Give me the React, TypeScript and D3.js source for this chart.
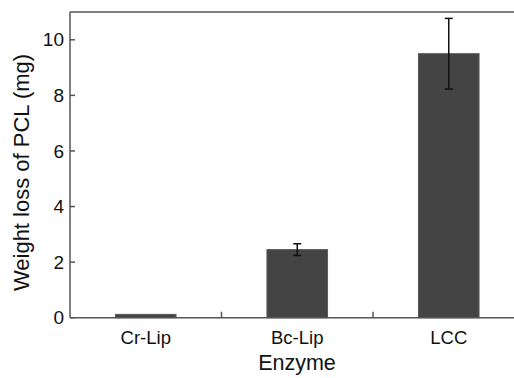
import { useEffect, useRef } from 'react';
import * as d3 from 'd3';

const categories = ['Cr-Lip', 'Bc-Lip', 'LCC'];
const values = [0.12, 2.45, 9.5];
const errors = [0, 0.21, 1.27];
const yTicks = [0, 2, 4, 6, 8, 10];

export default function App() {
  const svgRef = useRef<SVGSVGElement>(null);

  useEffect(() => {
    if (!svgRef.current) return;
    const width = 514;
    const height = 378;
    const left = 70;
    const top = 12;
    const bottom = 317.7;

    const root = d3.select(svgRef.current);
    root.selectAll('*').remove();
    root.attr('width', width).attr('height', height);

    const x = d3.scaleBand().domain(categories).range([left, left + 3 * 151.5]).paddingInner(0).paddingOuter(0);
    const y = d3.scaleLinear().domain([0, 11]).range([bottom, top]);

    const barW = x.bandwidth() * 0.4;
    const axisColor = '#555';

    // bars
    root
      .selectAll('.bar')
      .data(categories)
      .enter()
      .append('rect')
      .attr('x', (d) => (x(d) || 0) + x.bandwidth() / 2 - barW / 2)
      .attr('y', (_, i) => y(values[i]))
      .attr('width', barW)
      .attr('height', (_, i) => bottom - y(values[i]))
      .attr('fill', '#444')
      .attr('stroke', '#5a5a5a')
      .attr('stroke-width', 1);

    // error bars
    categories.forEach((c, i) => {
      if (!errors[i]) return;
      const cx = (x(c) || 0) + x.bandwidth() / 2;
      const g = root.append('g').attr('stroke', '#111').attr('stroke-width', 1.5);
      g.append('line').attr('x1', cx).attr('x2', cx).attr('y1', y(values[i] + errors[i])).attr('y2', y(values[i] - errors[i]));
      [values[i] + errors[i], values[i] - errors[i]].forEach((v) => {
        g.append('line').attr('x1', cx - 4).attr('x2', cx + 4).attr('y1', y(v)).attr('y2', y(v));
      });
    });

    // axes frame
    root.append('line').attr('x1', left).attr('x2', width).attr('y1', top).attr('y2', top).attr('stroke', axisColor).attr('stroke-width', 1.5);
    root.append('line').attr('x1', left).attr('x2', left).attr('y1', top).attr('y2', bottom).attr('stroke', axisColor).attr('stroke-width', 1.5);
    root.append('line').attr('x1', left).attr('x2', width).attr('y1', bottom).attr('y2', bottom).attr('stroke', axisColor).attr('stroke-width', 1.5);

    // y ticks (inward)
    yTicks.forEach((t) => {
      root.append('line').attr('x1', left).attr('x2', left + 5).attr('y1', y(t)).attr('y2', y(t)).attr('stroke', axisColor).attr('stroke-width', 1.5);
      root
        .append('text')
        .attr('x', left - 6)
        .attr('y', y(t))
        .attr('dy', '0.35em')
        .attr('text-anchor', 'end')
        .style('font-family', 'Liberation Sans, Arial, sans-serif')
        .style('font-size', '19px')
        .attr('fill', '#111')
        .text(t);
    });

    // x ticks between categories
    categories.slice(1).forEach((c) => {
      const xx = x(c) || 0;
      root.append('line').attr('x1', xx).attr('x2', xx).attr('y1', bottom).attr('y2', bottom - 6).attr('stroke', axisColor).attr('stroke-width', 1.5);
    });

    // category labels
    categories.forEach((c) => {
      root
        .append('text')
        .attr('x', (x(c) || 0) + x.bandwidth() / 2)
        .attr('y', 344)
        .attr('text-anchor', 'middle')
        .style('font-family', 'Liberation Sans, Arial, sans-serif')
        .style('font-size', '18.5px')
        .attr('fill', '#111')
        .text(c);
    });

    // axis titles
    root
      .append('text')
      .attr('x', 297)
      .attr('y', 370)
      .attr('text-anchor', 'middle')
      .style('font-family', 'Liberation Sans, Arial, sans-serif')
      .style('font-size', '21.5px')
      .attr('fill', '#111')
      .text('Enzyme');

    root
      .append('text')
      .attr('transform', 'translate(29,172.5) rotate(-90)')
      .attr('text-anchor', 'middle')
      .style('font-family', 'Liberation Sans, Arial, sans-serif')
      .style('font-size', '22px')
      .attr('fill', '#111')
      .text('Weight loss of PCL (mg)');
  }, []);

  return <svg ref={svgRef} style={{ position: 'absolute', left: 0, top: 0, background: '#fff' }} />;
}
